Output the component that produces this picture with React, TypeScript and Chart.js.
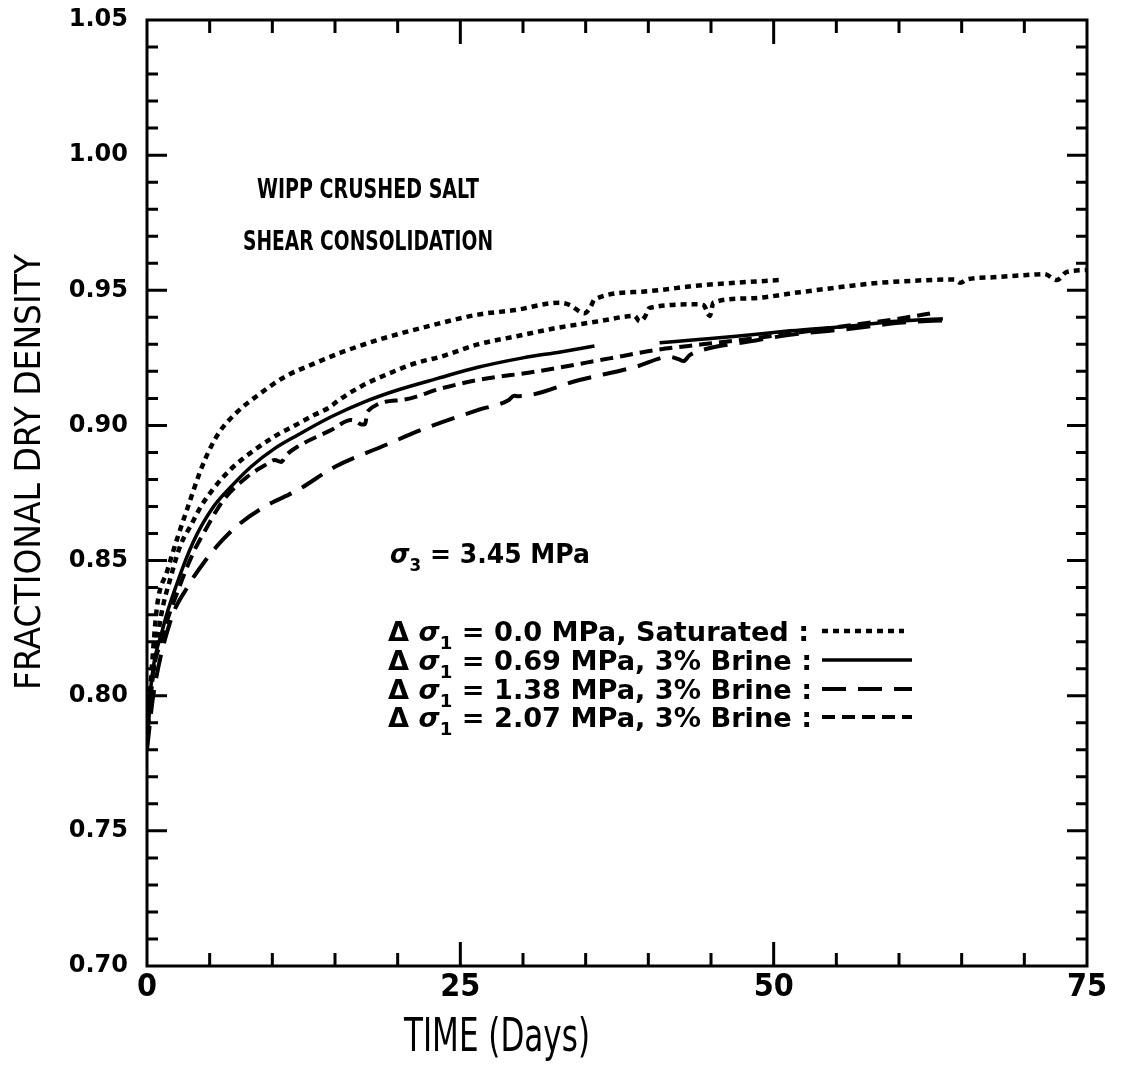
import React, { useEffect, useRef } from 'react';
import { Chart, registerables } from 'chart.js';

Chart.register(...registerables);

// ---- axis ticks ----
const X_TICKS = [0, 25, 50, 75];
const Y_TICKS = [0.7, 0.75, 0.8, 0.85, 0.9, 0.95, 1.0, 1.05];
const X_MINOR_STEP = 5;
const Y_MINOR_STEP = 0.01;
const X_TITLE = 'TIME (Days)';
const Y_TITLE = 'FRACTIONAL DRY DENSITY';

// ---- series: saturated test A (upper dotted) ----
const SAT_A_X = [0, 0.3, 0.8, 1.6, 2.4, 3.2, 4.5, 5.7, 7.2, 8.8, 11.0, 13.4, 15.5, 18.7, 22.7, 26.4, 29.4, 32.9, 33.7, 34.9, 35.4, 35.7, 39.5, 44.3, 50.5];
const SAT_A_Y = [0.785, 0.805, 0.833, 0.846, 0.858, 0.869, 0.886, 0.897, 0.905, 0.911, 0.918, 0.923, 0.927, 0.932, 0.937, 0.941, 0.9427, 0.9454, 0.9446, 0.9415, 0.9439, 0.9466, 0.9495, 0.9519, 0.9538];

// ---- series: saturated test B (lower dotted) ----
const SAT_B_X = [0, 0.4, 1.1, 1.9, 2.7, 3.5, 4.3, 5.2, 6.1, 7.2, 8.6, 10.2, 11.8, 13.4, 14.5, 14.8, 15.2, 17.1, 19.2, 21.4, 23.5, 26.4, 29.5, 32.6, 36.0, 38.9, 39.3, 39.7, 40.1, 43.8, 44.4, 44.9, 45.2, 48.0, 52.1, 55.0, 58.0, 61.0, 64.4, 64.9, 65.4, 67.5, 70.0, 71.6, 72.6, 73.4, 75.0];
const SAT_B_Y = [0.785, 0.805, 0.829, 0.844, 0.856, 0.863, 0.87, 0.876, 0.881, 0.886, 0.891, 0.896, 0.9, 0.904, 0.9065, 0.9075, 0.909, 0.9145, 0.919, 0.923, 0.9255, 0.93, 0.933, 0.936, 0.9385, 0.9405, 0.9385, 0.94, 0.9435, 0.9448, 0.9445, 0.9405, 0.9455, 0.947, 0.9493, 0.951, 0.9526, 0.9535, 0.954, 0.9528, 0.954, 0.9548, 0.9556, 0.956, 0.9538, 0.9568, 0.9575];

// ---- series: 0.69 MPa, 3% brine (solid, two segments) ----
const B069_A_X = [0, 0.3, 1.3, 2.4, 3.7, 5.3, 6.7, 8.3, 10.2, 12.0, 14.7, 17.4, 20.0, 23.2, 26.4, 30.0, 33.0, 35.7];
const B069_A_Y = [0.783, 0.803, 0.8255, 0.8416, 0.857, 0.8699, 0.8773, 0.8847, 0.8915, 0.8964, 0.9032, 0.9088, 0.9131, 0.9174, 0.9215, 0.925, 0.9272, 0.9294];
const B069_B_X = [40.9, 44.0, 47.0, 51.3, 56.6, 59.8, 63.5];
const B069_B_Y = [0.9306, 0.9318, 0.933, 0.935, 0.937, 0.9385, 0.9395];

// ---- series: 1.38 MPa, 3% brine (long dash) ----
const B138_X = [0, 0.5, 1.9, 3.2, 4.5, 5.9, 7.5, 9.4, 12.0, 15.0, 18.7, 22.2, 26.4, 28.8, 29.3, 29.6, 34.5, 39.0, 41.7, 42.4, 42.8, 43.3, 44.3, 48.0, 51.3, 56.6, 60.0, 64.1];
const B138_Y = [0.78, 0.8, 0.828, 0.84, 0.849, 0.857, 0.864, 0.87, 0.876, 0.8847, 0.8921, 0.8989, 0.9057, 0.9092, 0.911, 0.9108, 0.9168, 0.9217, 0.9254, 0.9245, 0.9238, 0.926, 0.9279, 0.931, 0.9335, 0.936, 0.938, 0.939];

// ---- series: 2.07 MPa, 3% brine (short dash) ----
const B207_X = [0, 0.3, 1.3, 2.4, 3.7, 4.5, 6.1, 8.0, 9.5, 10.2, 10.7, 11.1, 12.0, 14.7, 16.3, 16.8, 17.1, 17.4, 17.6, 20.3, 23.5, 26.4, 31.0, 36.9, 40.6, 44.3, 48.0, 52.1, 56.0, 60.0, 62.8];
const B207_Y = [0.783, 0.802, 0.823, 0.838, 0.853, 0.86, 0.8724, 0.881, 0.8855, 0.8872, 0.8865, 0.889, 0.8921, 0.8983, 0.902, 0.9012, 0.9003, 0.9005, 0.9052, 0.9094, 0.9137, 0.9168, 0.9199, 0.9248, 0.9279, 0.93, 0.932, 0.9345, 0.937, 0.9395, 0.9417];

// ---- text ----
const NOTE_LINES = ['WIPP CRUSHED SALT', 'SHEAR CONSOLIDATION'];
const SIGMA3_VALUE = '3.45 MPa';
const LEGEND_VALUES = ['0.0', '0.69', '1.38', '2.07'];
const LEGEND_CONDITIONS = ['Saturated', '3% Brine', '3% Brine', '3% Brine'];
const LEGEND_DATASET = [0, 2, 4, 5];

const pts = (xs: number[], ys: number[]) => xs.map((x, i) => ({ x, y: ys[i] }));

const BASE_FONT = '"DejaVu Sans", sans-serif';
const NARROW_FONT = '"Liberation Sans Narrow", "DejaVu Sans Condensed", "Arial Narrow", sans-serif';

type Piece = { t: string; f: string; dy?: number };

function drawPieces(ctx: CanvasRenderingContext2D, pieces: Piece[], x: number, y: number, sx: number) {
  ctx.save();
  ctx.translate(x, y);
  ctx.scale(sx, 1);
  let cx = 0;
  for (const p of pieces) {
    ctx.font = p.f;
    ctx.fillText(p.t, cx, p.dy || 0);
    cx += ctx.measureText(p.t).width;
  }
  ctx.restore();
}
function piecesWidth(ctx: CanvasRenderingContext2D, pieces: Piece[]) {
  let w = 0;
  for (const p of pieces) {
    ctx.font = p.f;
    w += ctx.measureText(p.t).width;
  }
  return w;
}

const framePlugin = {
  id: 'frameTicks',
  afterDatasetsDraw(chart: any) {
    const { ctx, chartArea: a, scales } = chart;
    const xs = scales.x;
    const ys = scales.y;
    ctx.save();
    ctx.strokeStyle = '#000';
    ctx.lineWidth = 3;
    ctx.lineCap = 'butt';
    ctx.strokeRect(a.left, a.top, a.right - a.left, a.bottom - a.top);
    const MAJ = 20;
    const MIN = 11;
    ctx.beginPath();
    for (let v = xs.min + X_MINOR_STEP; v < xs.max - 1e-6; v += X_MINOR_STEP) {
      const major = X_TICKS.some((t) => Math.abs(t - v) < 1e-6);
      const px = xs.getPixelForValue(v);
      const L = major ? MAJ + 4 : MIN + 2;
      ctx.moveTo(px, a.bottom);
      ctx.lineTo(px, a.bottom - L);
      ctx.moveTo(px, a.top);
      ctx.lineTo(px, a.top + L);
    }
    const n = Math.round((ys.max - ys.min) / Y_MINOR_STEP);
    for (let i = 1; i < n; i++) {
      const v = ys.min + i * Y_MINOR_STEP;
      const major = Y_TICKS.some((t) => Math.abs(t - v) < 1e-6);
      const py = ys.getPixelForValue(v);
      const L = major ? MAJ : MIN;
      ctx.moveTo(a.left, py);
      ctx.lineTo(a.left + L, py);
      ctx.moveTo(a.right, py);
      ctx.lineTo(a.right - L, py);
    }
    ctx.stroke();

    ctx.fillStyle = '#000';
    ctx.textBaseline = 'alphabetic';

    // axis titles (condensed)
    {
      const p: Piece[] = [{ t: X_TITLE, f: `46px ${BASE_FONT}` }];
      const w = piecesWidth(ctx, p);
      drawPieces(ctx, p, 497 - 186 / 2, 1051, 186 / w);
    }
    {
      const p: Piece[] = [{ t: Y_TITLE, f: `36px ${BASE_FONT}` }];
      const w = piecesWidth(ctx, p);
      ctx.save();
      ctx.translate(40, 472);
      ctx.rotate(-Math.PI / 2);
      drawPieces(ctx, p, -436 / 2, 0, 436 / w);
      ctx.restore();
    }

    const bold = `bold 27px ${BASE_FONT}`;
    const boldIt = `italic bold 27px ${BASE_FONT}`;
    const sub = `bold 18px ${BASE_FONT}`;
    const noteCenters = [[368, 198, 222], [368, 250, 250]];
    NOTE_LINES.forEach((t, i) => {
      const [cx, by, w] = noteCenters[i];
      const pieces: Piece[] = [{ t, f: `bold 27px ${BASE_FONT}` }];
      const mw = piecesWidth(ctx, pieces);
      drawPieces(ctx, pieces, cx - w / 2, by, w / mw);
    });

    const s3: Piece[] = [
      { t: 'σ', f: boldIt },
      { t: '3', f: sub, dy: 8 },
      { t: ' = ' + SIGMA3_VALUE, f: bold },
    ];
    const s3w = piecesWidth(ctx, s3);
    drawPieces(ctx, s3, 390, 563, 200 / s3w);

    const rows: Piece[][] = LEGEND_VALUES.map((v, i) => [
      { t: 'Δ ', f: bold },
      { t: 'σ', f: boldIt },
      { t: '1', f: sub, dy: 8 },
      { t: ` = ${v} MPa, ${LEGEND_CONDITIONS[i]} :`, f: bold },
    ]);
    const sx = 424 / piecesWidth(ctx, rows[1]);
    const rowY = [631, 660, 689, 717];
    rows.forEach((r, i) => {
      drawPieces(ctx, r, 388, rowY[i] + 10, sx);
      const ds = chart.data.datasets[LEGEND_DATASET[i]];
      ctx.save();
      ctx.strokeStyle = '#000';
      ctx.lineWidth = ds.borderWidth;
      ctx.setLineDash(ds.borderDash || []);
      ctx.beginPath();
      ctx.moveTo(822, rowY[i]);
      ctx.lineTo(i === 0 ? 904 : 912, rowY[i]);
      ctx.stroke();
      ctx.restore();
    });
    ctx.restore();
  },
};

const DOT = [6, 5];
const LONG = [24, 12];
const SHORT = [13, 7];

export default function App() {
  const ref = useRef<HTMLCanvasElement | null>(null);
  useEffect(() => {
    document.body.style.margin = '0';
    document.body.style.overflow = 'hidden';
    const canvas = ref.current!;
    const common = {
      borderColor: '#000',
      backgroundColor: '#000',
      pointRadius: 0,
      fill: false,
      cubicInterpolationMode: 'monotone',
      borderCapStyle: 'butt',
      borderJoinStyle: 'round',
    };
    const chart = new Chart(canvas, {
      type: 'line',
      data: {
        datasets: [
          { ...common, label: 'Saturated A', data: pts(SAT_A_X, SAT_A_Y), borderWidth: 4.5, borderDash: DOT },
          { ...common, label: 'Saturated B', data: pts(SAT_B_X, SAT_B_Y), borderWidth: 4.5, borderDash: DOT },
          { ...common, label: '0.69 MPa A', data: pts(B069_A_X, B069_A_Y), borderWidth: 3.5 },
          { ...common, label: '0.69 MPa B', data: pts(B069_B_X, B069_B_Y), borderWidth: 3.5 },
          { ...common, label: '1.38 MPa', data: pts(B138_X, B138_Y), borderWidth: 4, borderDash: LONG },
          { ...common, label: '2.07 MPa', data: pts(B207_X, B207_Y), borderWidth: 4, borderDash: SHORT },
        ] as any,
      },
      options: {
        animation: false,
        responsive: false,
        devicePixelRatio: 1,
        layout: { padding: { top: 20, right: 35, left: 0, bottom: 0 } },
        plugins: { legend: { display: false }, tooltip: { enabled: false } },
        scales: {
          x: {
            type: 'linear',
            min: 0,
            max: 75,
            afterBuildTicks: (s: any) => {
              s.ticks = X_TICKS.map((value) => ({ value }));
            },
            afterFit: (s: any) => {
              s.height = 102;
              s.paddingLeft = 0;
              s.paddingRight = 0;
            },
            grid: { display: false, drawTicks: false },
            border: { display: false },
            ticks: {
              color: '#000',
              padding: 2,
              maxRotation: 0,
              font: { family: NARROW_FONT, size: 32, weight: 'bold', lineHeight: 1.2 },
            },
            title: { display: false, text: X_TITLE },
          },
          y: {
            type: 'linear',
            min: 0.7,
            max: 1.05,
            afterBuildTicks: (s: any) => {
              s.ticks = Y_TICKS.map((value) => ({ value }));
            },
            afterFit: (s: any) => {
              s.width = 147;
              s.paddingTop = 0;
              s.paddingBottom = 0;
            },
            grid: { display: false, drawTicks: false },
            border: { display: false },
            ticks: {
              color: '#000',
              padding: 19,
              callback: (v: any) => Number(v).toFixed(2),
              font: { family: BASE_FONT, size: 24, weight: 'bold' },
            },
            title: { display: false, text: Y_TITLE },
          },
        },
      } as any,
      plugins: [framePlugin],
    });
    return () => chart.destroy();
  }, []);
  return <canvas ref={ref} width={1122} height={1068} style={{ display: 'block' }} />;
}
